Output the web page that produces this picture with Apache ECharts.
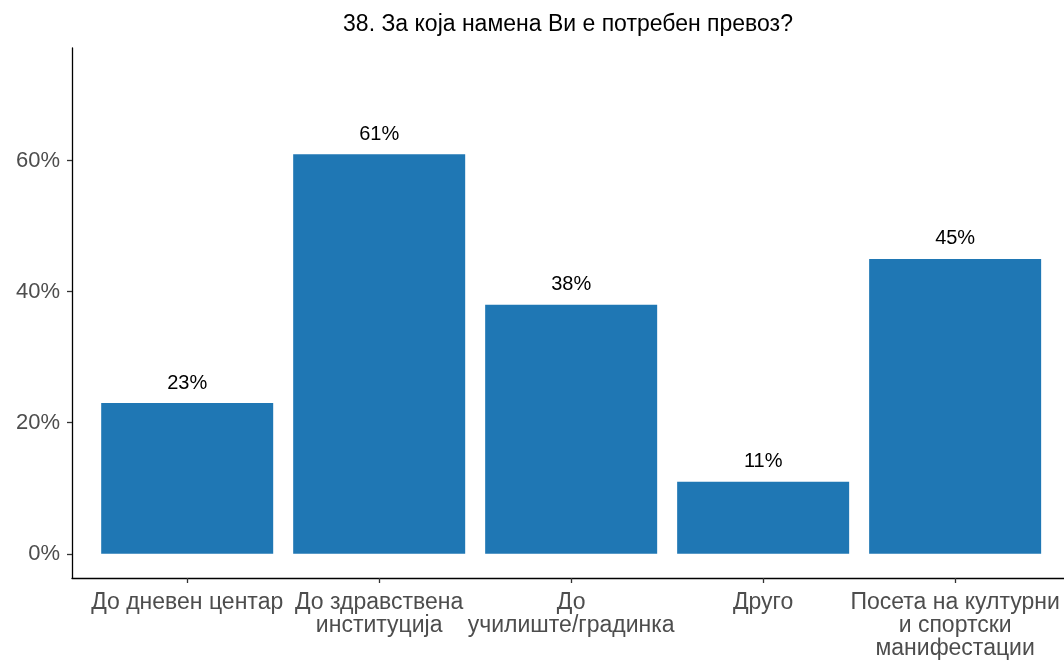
<!DOCTYPE html>
<html>
<head>
<meta charset="utf-8">
<script src="https://cdn.jsdelivr.net/npm/echarts@6/dist/echarts.min.js"></script>
<style>
  html, body { margin: 0; padding: 0; background: #fff; }
  #chart { width: 1064px; height: 660px; }
</style>
</head>
<body>
<div id="chart"></div>
<script>
// Survey question and answers
const titleText = '38. За која намена Ви е потребен превоз?';
const categories = [
  'До дневен центар',
  'До здравствена\nинституција',
  'До\nучилиште/градинка',
  'Друго',
  'Посета на културни\nи спортски\nманифестации'
];
const percentValues = [23, 61, 38, 11, 45];
const yTickValues = [0, 20, 40, 60];

const positions = categories.map((_, i) => i + 1);
const barData = percentValues.map((v, i) => [positions[i], v]);

const chart = echarts.init(document.getElementById('chart'), null, { renderer: 'canvas' });
const font = 'Liberation Sans, Arial, sans-serif';

chart.setOption({
  animation: false,
  backgroundColor: '#ffffff',
  title: {
    text: titleText,
    left: 563,
    top: 8,
    textAlign: 'center',
    textStyle: { fontFamily: font, fontSize: 23, fontWeight: 'normal', color: '#000' }
  },
  grid: { left: 72, top: 48, right: 0, height: 530, containLabel: false },
  xAxis: {
    type: 'value',
    // the plotting area runs a little past the right edge of the page
    min: 0.4,
    max: 5.567,
    splitLine: { show: false },
    axisLine: { show: true, onZero: false, lineStyle: { color: '#000', width: 1.3 } },
    axisTick: { show: true, length: 5, customValues: positions, lineStyle: { color: '#333', width: 1.3 } },
    axisLabel: {
      customValues: positions,
      formatter: v => categories[Math.round(v) - 1] || '',
      fontFamily: font, fontSize: 23, color: '#4d4d4d', lineHeight: 23, margin: 13,
      align: 'center', verticalAlign: 'top'
    }
  },
  yAxis: {
    type: 'value',
    min: -3.7,
    max: 77.2,
    splitLine: { show: false },
    axisLine: { show: true, onZero: false, lineStyle: { color: '#000', width: 1.3 } },
    axisTick: { show: true, length: 5, customValues: yTickValues, lineStyle: { color: '#333', width: 1.3 } },
    axisLabel: {
      customValues: yTickValues,
      formatter: v => Math.round(v) + '%',
      fontFamily: font, fontSize: 22, color: '#4d4d4d', margin: 12
    }
  },
  series: [{
    type: 'bar',
    data: barData,
    barWidth: 172,
    itemStyle: { color: '#1F77B4' },
    label: {
      show: true,
      position: 'top',
      distance: 10,
      formatter: p => p.value[1] + '%',
      fontFamily: font, fontSize: 20, color: '#000'
    }
  }]
});
</script>
</body>
</html>
